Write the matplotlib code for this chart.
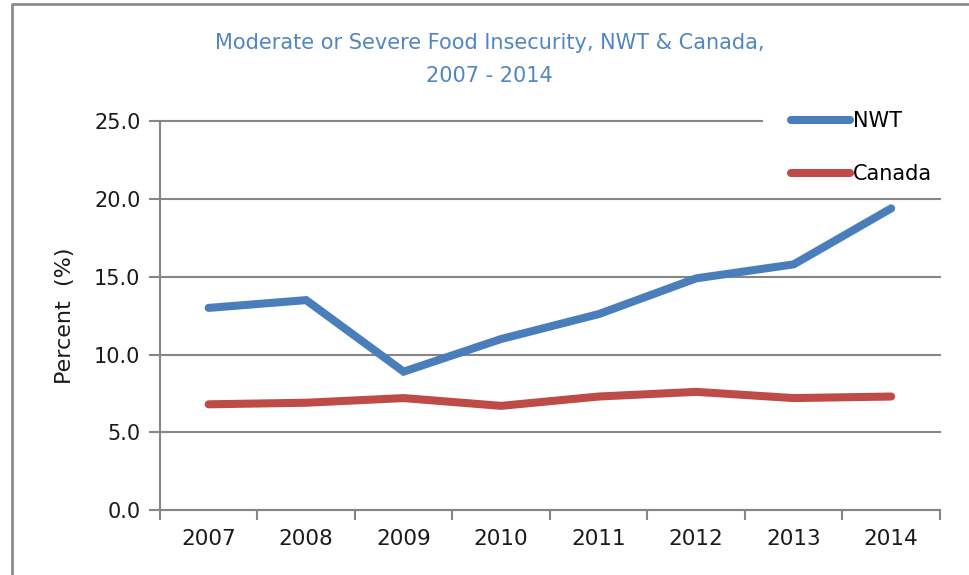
import matplotlib.pyplot as plt
from matplotlib.patches import Rectangle
from matplotlib.lines import Line2D

years = ['2007', '2008', '2009', '2010', '2011', '2012', '2013', '2014']
nwt = [13.0, 13.5, 8.9, 11.0, 12.6, 14.9, 15.8, 19.4]
canada = [6.8, 6.9, 7.2, 6.7, 7.3, 7.6, 7.2, 7.3]
yticks = [0, 5, 10, 15, 20, 25]

plt.rcParams['font.family'] = ['DejaVu Sans']

fig = plt.figure(figsize=(9.69, 5.75), dpi=100)
ax = fig.add_axes([0.165, 0.113, 0.805, 0.676])

# outer chart border: only left and top edges show in the original
fig.lines.append(Line2D([12 / 969, 12 / 969, 1.05], [-0.05, 1 - 4 / 575, 1 - 4 / 575],
                        transform=fig.transFigure, color='#8c8c8c', linewidth=2))
# legend area covers the top gridline
fig.patches.append(Rectangle((763 / 969, 1 - 195 / 575), 0.3, 95 / 575,
                             transform=fig.transFigure, facecolor='white',
                             edgecolor='none', zorder=2))

x = list(range(len(years)))
ax.plot(x, nwt, color='#4A7EBB', linewidth=5.8, solid_capstyle='round',
        solid_joinstyle='miter', label='NWT', zorder=3)
ax.plot(x, canada, color='#BE4B48', linewidth=5.8, solid_capstyle='round',
        solid_joinstyle='miter', label='Canada', zorder=3)

ax.set_xlim(-0.5, len(years) - 0.5)
ax.set_ylim(0, 25)
ax.set_yticks(yticks)
ax.set_yticklabels([f'{v:.1f}' for v in yticks], fontsize=15, color='#1a1a1a')
ax.set_xticks(x)
ax.set_xticklabels(years, fontsize=15.5, color='#1a1a1a')
ax.set_xticks([i - 0.5 for i in range(len(years) + 1)], minor=True)
ax.tick_params(axis='x', which='major', length=0, pad=14)
ax.tick_params(axis='x', which='minor', length=7, width=1.5, color='#868686')
ax.tick_params(axis='y', length=8, width=1.5, color='#868686', pad=6)

ax.grid(axis='y', color='#868686', linewidth=1.5)
for gl in ax.yaxis.get_gridlines():
    gl.set_clip_on(False)
ax.set_axisbelow(True)
for s in ['top', 'right']:
    ax.spines[s].set_visible(False)
for s in ['left', 'bottom']:
    ax.spines[s].set_color('#868686')
    ax.spines[s].set_linewidth(1.5)

ax.set_ylabel('Percent  (%)', fontsize=16, color='#1a1a1a', labelpad=14)

fig.text(0.505, 0.925, 'Moderate or Severe Food Insecurity, NWT & Canada,',
         ha='center', va='center', fontsize=15, color='#5285C3')
fig.text(0.505, 0.868, '2007 - 2014', ha='center', va='center',
         fontsize=15, color='#5285C3')

leg = fig.legend(loc='upper left', bbox_to_anchor=(787 / 969, 1 - 107 / 575),
                 fontsize=15, frameon=False, handlelength=2.8,
                 handletextpad=0.15, labelspacing=1.6, borderpad=0.2,
                 borderaxespad=0)

fig.savefig('out.png', dpi=100)
